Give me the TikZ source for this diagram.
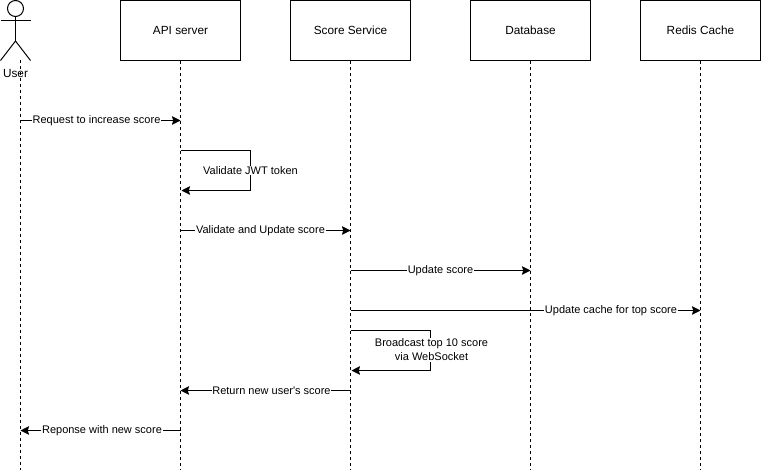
\documentclass[tikz,border=0pt]{standalone}
\usepackage{fontspec}
\setmainfont{Liberation Sans}
\usetikzlibrary{arrows.meta}
\tikzset{
  part/.style={draw=black,fill=white,line width=1pt,minimum width=120pt,minimum height=60pt,inner sep=0pt,font=\fontsize{11.8}{14}\selectfont},
  life/.style={line width=1pt,dash pattern=on 3pt off 3pt},
  msg/.style={line width=1pt,-{Stealth[length=8.5pt,width=8.5pt,inset=1.2pt]}},
  lbl/.style={fill=white,inner sep=0.6pt,font=\fontsize{11}{14}\selectfont,align=center},
  stick/.style={line width=1pt},
}
\begin{document}
\begin{tikzpicture}[x=1pt,y=-1pt]
\useasboundingbox (0,0) rectangle (762,472);
% participants
\node[part] (api) at (180.5,30.5) {API server};
\node[part] (score) at (350.5,30.5) {Score Service};
\node[part] (db) at (530.5,30.5) {Database};
\node[part] (redis) at (700.5,30.5) {Redis Cache};
% actor
\node[draw=black,line width=1pt,circle,minimum size=16pt,inner sep=0pt] (head) at (15.5,8.5) {};
\coordinate (hip) at (15.5,41);
\coordinate (armL) at (0.5,20.5);
\coordinate (armR) at (30.5,20.5);
\coordinate (legL) at (0.5,60.5);
\coordinate (legR) at (30.5,60.5);
\draw[stick] (head.south) -- (hip);
\draw[stick] (armL) -- (armR);
\draw[stick] (legL) -- (hip) -- (legR);
\node[font=\fontsize{11.8}{14}\selectfont,inner sep=0pt] (user) at (15.5,73.5) {User};
% lifelines
\coordinate (userTop) at (20.5,60);
\coordinate (userEnd) at (20.5,470);
\coordinate (apiEnd) at (180.5,470);
\coordinate (scoreEnd) at (350.5,470);
\coordinate (dbEnd) at (530.5,470);
\coordinate (redisEnd) at (700.5,470);
\draw[life] (userTop) -- (userEnd);
\draw[life] (api.south) -- (apiEnd);
\draw[life] (score.south) -- (scoreEnd);
\draw[life] (db.south) -- (dbEnd);
\draw[life] (redis.south) -- (redisEnd);
% message anchor points
\coordinate (u1) at (20.5,120.5);
\coordinate (a1) at (180.5,120.5);
\coordinate (a2) at (180.5,150.5);
\coordinate (a2r) at (250.5,150.5);
\coordinate (a3r) at (250.5,190.5);
\coordinate (a3) at (181.5,190.5);
\coordinate (a4) at (180.5,230.5);
\coordinate (s4) at (350.5,230.5);
\coordinate (s5) at (350.5,270.5);
\coordinate (d5) at (530.5,270.5);
\coordinate (s6) at (350.5,310.5);
\coordinate (r6) at (700.5,310.5);
\coordinate (s7) at (350.5,330.5);
\coordinate (s7r) at (430.5,330.5);
\coordinate (s8r) at (430.5,370.5);
\coordinate (s8) at (351.5,370.5);
\coordinate (s9) at (350.5,390.5);
\coordinate (a9) at (180.5,390.5);
\coordinate (a10) at (180.5,430.5);
\coordinate (u10) at (20.5,430.5);
% connectors
\draw[msg] (u1) -- (a1);
\draw[msg] (a2) -- (a2r) -- (a3r) -- (a3);
\draw[msg] (a4) -- (s4);
\draw[msg] (s5) -- (d5);
\draw[msg] (s6) -- (r6);
\draw[msg] (s7) -- (s7r) -- (s8r) -- (s8);
\draw[msg] (s9) -- (a9);
\draw[msg] (a10) -- (u10);
% labels
\node[lbl] (m1) at (96.5,121) {Request to increase score};
\node[lbl] (m2) at (250.5,170.5) {Validate JWT token};
\node[lbl] (m3) at (260.5,231) {Validate and Update score};
\node[lbl] (m4) at (440.5,271) {Update score};
\node[lbl] (m5) at (611,311) {Update cache for top score};
\node[lbl] (m6) at (431.5,350) {Broadcast top 10 score\\via WebSocket};
\node[lbl] (m7) at (271.5,391) {Return new user\XeTeXglyph\XeTeXcharglyph"27 s score};
\node[lbl] (m8) at (102,431) {Reponse with new score};
\end{tikzpicture}
\end{document}
